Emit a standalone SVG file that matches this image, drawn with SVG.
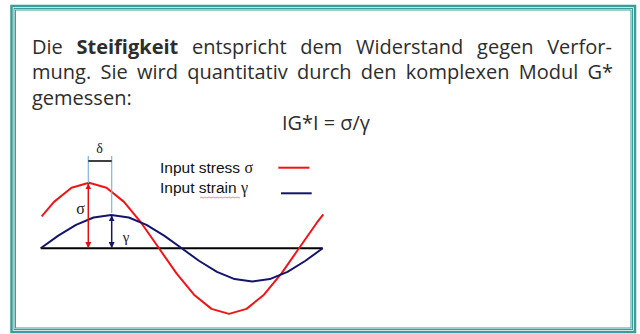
<svg xmlns="http://www.w3.org/2000/svg" width="640" height="334" viewBox="0 0 640 334">
<style>
.t{font-family:"Open Sans","Noto Sans",sans-serif;font-size:20px;fill:#2d2d2d}
.b{font-weight:bold}
.lg{font-family:"Liberation Sans",Arial,sans-serif;font-size:15.5px;fill:#111}
.gr{font-family:"Liberation Serif","Times New Roman",serif;fill:#222}
.frame{fill:none;stroke:#3a9d99}
</style>
<defs>
<marker id="ar" viewBox="0 0 10 10" refX="9" refY="5" markerWidth="6" markerHeight="6" orient="auto-start-reverse" markerUnits="userSpaceOnUse"><path d="M0,0 L10,5 L0,10 z" fill="#e01010"/></marker>
<marker id="an" viewBox="0 0 10 10" refX="9" refY="5" markerWidth="6" markerHeight="6" orient="auto-start-reverse" markerUnits="userSpaceOnUse"><path d="M0,0 L10,5 L0,10 z" fill="#14146e"/></marker>
</defs>
<rect width="640" height="334" fill="#fff"/>
<g id="frame">
<rect class="frame" x="11.5" y="6" width="623.5" height="326" stroke-width="2.5"/>
<rect class="frame" x="14" y="8.5" width="618.5" height="321" stroke-width="1"/>
<rect class="frame" x="15.5" y="10" width="615.5" height="318" stroke-width="1"/>
</g>
<g id="text">
<text class="t" x="32" y="53.5" word-spacing="8.5">Die <tspan class="b">Steifigkeit</tspan> entspricht dem Widerstand gegen Verfor-</text>
<text class="t" x="32" y="79" word-spacing="4.1">mung. Sie wird quantitativ durch den komplexen Modul G*</text>
<text class="t" x="32" y="104.5">gemessen:</text>
<text class="t" x="282" y="129.5" textLength="88" lengthAdjust="spacingAndGlyphs">IG*I = σ/γ</text>
</g>
<g id="axis">
<line x1="40.7" y1="248.3" x2="322.7" y2="248.3" stroke="#000" stroke-width="2"/>
</g>
<g id="stress-curve">
<polyline fill="none" stroke="#f01414" stroke-width="2" stroke-linejoin="round" points="41.7,216.3 54,201.9 71.5,187.7 89,182.7 106.5,187.7 124,201.9 141.5,223.2 159,248.3 176.5,273.4 194,294.7 211.5,308.9 229,313.9 246.5,308.9 264,294.7 281.5,273.4 299,248.3 316.5,223.2 323.3,214.3"/>
</g>
<g id="strain-curve">
<polyline fill="none" stroke="#14146e" stroke-width="2" stroke-linejoin="round" points="40.7,248.3 58.3,235.6 76,224.8 93.6,217.5 111.2,215 128.8,217.5 146.5,224.8 164.1,235.6 181.7,248.3 199.3,261 217,271.8 234.6,279.1 252.2,281.6 269.8,279.1 287.5,271.8 305.1,261 322.7,248.3"/>
</g>
<g id="delta">
<line x1="88.3" y1="156" x2="88.3" y2="183" stroke="#7fb4e0" stroke-width="1.2"/>
<line x1="111.7" y1="156" x2="111.7" y2="213" stroke="#7fb4e0" stroke-width="1.2"/>
<line x1="88.3" y1="161" x2="111.7" y2="161" stroke="#000" stroke-width="1.5"/>
<text class="gr" x="99.5" y="153" font-size="14" text-anchor="middle">δ</text>
</g>
<g id="connectors">
<line x1="88.3" y1="184" x2="88.3" y2="247.5" stroke="#e01010" stroke-width="1.5" marker-start="url(#ar)" marker-end="url(#ar)"/>
<line x1="111.7" y1="216" x2="111.7" y2="247.5" stroke="#14146e" stroke-width="1.5" marker-start="url(#an)" marker-end="url(#an)"/>
</g>
<g id="labels">
<text class="gr" x="80.5" y="214" font-size="16" text-anchor="middle">σ</text>
<text class="gr" x="126" y="241.5" font-size="15" text-anchor="middle">γ</text>
</g>
<g id="legend">
<text class="lg" x="160" y="172.7">Input stress <tspan class="gr" font-size="16">σ</tspan></text>
<text class="lg" x="160" y="193">Input strain <tspan class="gr" font-size="16">γ</tspan></text>
<path d="M200,197.5 q1,-1 2,0 t2,0 t2,0 t2,0 t2,0 t2,0 t2,0 t2,0 t2,0 t2,0 t2,0 t2,0 t2,0 t2,0 t2,0 t2,0 t2,0 t2,0 t2,0 t2,0" fill="none" stroke="#e04040" stroke-width="0.6"/>
<line x1="278.3" y1="167.7" x2="309.3" y2="167.7" stroke="#f01414" stroke-width="2"/>
<line x1="281" y1="193.3" x2="311.7" y2="193.3" stroke="#14146e" stroke-width="2"/>
</g>
</svg>
